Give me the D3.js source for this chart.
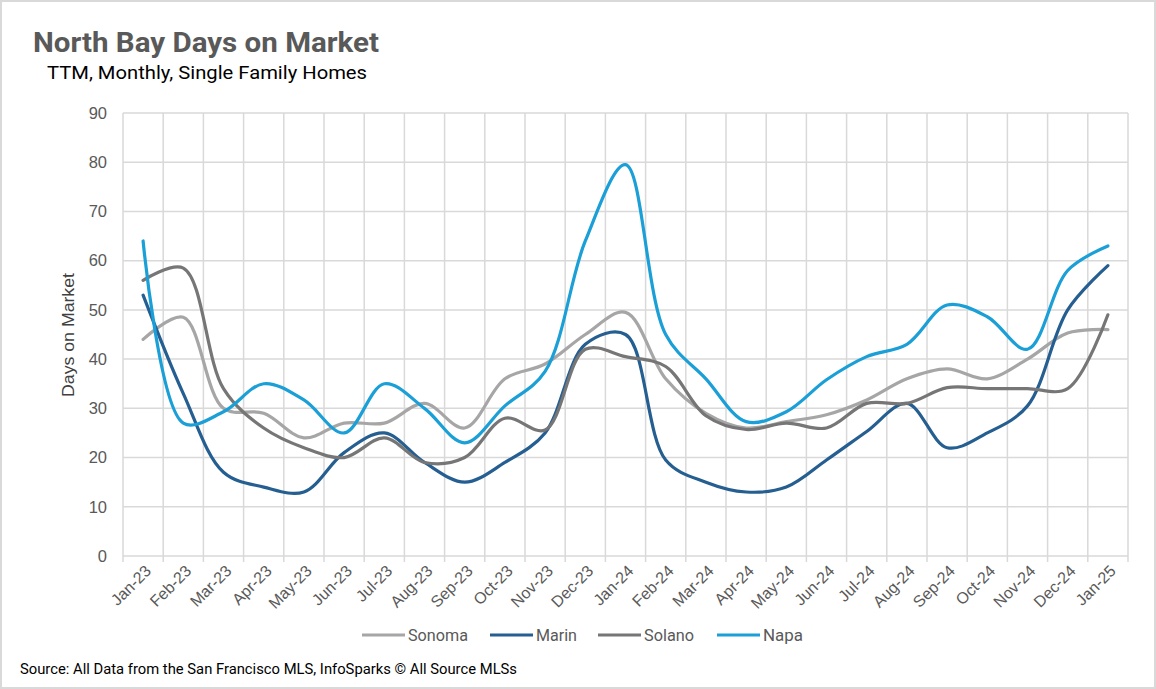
<!DOCTYPE html>
<html><head><meta charset="utf-8">
<script src="https://cdn.jsdelivr.net/npm/d3@7"></script>
<style>
html,body{margin:0;padding:0;background:#fff;}
svg{display:block;}
text{font-family:"Liberation Sans",Arial,sans-serif;}
</style></head>
<body>
<svg id="chart" width="1156" height="689"></svg>
<script>
const months = ["Jan-23","Feb-23","Mar-23","Apr-23","May-23","Jun-23","Jul-23","Aug-23","Sep-23","Oct-23","Nov-23","Dec-23",
  "Jan-24","Feb-24","Mar-24","Apr-24","May-24","Jun-24","Jul-24","Aug-24","Sep-24","Oct-24","Nov-24","Dec-24","Jan-25"];
const sonoma = [44,48.5,30,29,24,27,27,31,26,36,39,45,49.5,36,29,26,27.3,28.7,31.7,36,38,36,40,45.3,46];
const marin  = [53,33,17,14,13,21,25,19,15,19,25,43,45,19.5,15,13,14,19.5,25.3,31,22,25,30.5,50,59];
const solano = [56,58.5,34,26,22,20,24,19,20,28,25.6,42,40.5,38.5,28.5,25.7,27,26,31,31,34.2,34,34,34,49];
const napa   = [64,27,29.3,35,31.7,25,35,30,23,30.5,37.5,64,79.5,45,36,27.3,29.3,35.8,40.5,43,51,48.6,42,58,63];
const yTicks = [0,10,20,30,40,50,60,70,80,90];
const seriesNames = ["Sonoma","Marin","Solano","Napa"];
const seriesColors = ["#a6a6a6","#255e91","#767676","#1b9fd7"];
const seriesData = [sonoma, marin, solano, napa];

const svg = d3.select("#chart");
const W = 1156, H = 689;
const m = {left:123, right:1128, top:113, bottom:556};

// outer border
svg.append("rect").attr("x",1).attr("y",1).attr("width",W-2).attr("height",H-2)
  .attr("fill","#fff").attr("stroke","#d9d9d9").attr("stroke-width",2);

const x = d3.scaleBand().domain(months).range([m.left, m.right]).paddingInner(0).paddingOuter(0);
const y = d3.scaleLinear().domain([0,90]).range([m.bottom, m.top]);

// horizontal gridlines
svg.append("g").selectAll("line").data(yTicks).join("line")
  .attr("x1",m.left).attr("x2",m.right)
  .attr("y1",d=>y(d)).attr("y2",d=>y(d))
  .attr("stroke","#d9d9d9").attr("stroke-width",1.5);

// vertical gridlines at category boundaries
const bounds = months.map(d=>x(d)).concat([m.right]);
svg.append("g").selectAll("line").data(bounds).join("line")
  .attr("x1",d=>d).attr("x2",d=>d)
  .attr("y1",m.top).attr("y2",m.bottom+6)
  .attr("stroke","#d9d9d9").attr("stroke-width",1.5);

// y axis labels
const yAxis = d3.axisLeft(y).tickValues(yTicks).tickSize(0).tickPadding(16);
const yg = svg.append("g").attr("transform",`translate(${m.left},0)`).call(yAxis);
yg.select(".domain").remove();
yg.selectAll("text").attr("fill","#595959").style("font-size","16.5px")
  .style("font-family","'Liberation Sans',Arial,sans-serif");

// x axis
const xAxis = d3.axisBottom(x).tickSize(0).tickPadding(0);
const xg = svg.append("g").attr("transform",`translate(0,${m.bottom})`).call(xAxis);
xg.select(".domain").remove();
xg.selectAll("text")
  .attr("fill","#595959").style("font-size","16px")
  .style("font-family","'Liberation Sans',Arial,sans-serif")
  .attr("text-anchor","end")
  .attr("dy",null).attr("y",null)
  .attr("transform","translate(6,13) rotate(-45)")
  .attr("dominant-baseline","middle");

// y title
svg.append("text").attr("transform",`translate(74,335) rotate(-90)`)
  .attr("text-anchor","middle").attr("fill","#404040").style("font-size","17px")
  .attr("textLength",124).attr("lengthAdjust","spacingAndGlyphs")
  .text("Days on Market");

// lines
const line = d3.line().x((d,i)=>x(months[i])+x.bandwidth()/2).y(d=>y(d))
  .curve(d3.curveCatmullRom.alpha(0.5));
seriesData.forEach((s,k)=>{
  svg.append("path").datum(s).attr("d",line).attr("fill","none")
    .attr("stroke",seriesColors[k]).attr("stroke-width",3.2).attr("stroke-linecap","round");
});

// title
svg.append("text").attr("x",33).attr("y",52).attr("fill","#595959")
  .style("font-family","Roboto,sans-serif").style("font-weight","bold").style("font-size","28px")
  .attr("textLength",346).attr("lengthAdjust","spacingAndGlyphs")
  .text("North Bay Days on Market");
svg.append("text").attr("x",47).attr("y",79).attr("fill","#000")
  .style("font-family","Roboto,sans-serif").style("font-size","19px")
  .attr("textLength",320).attr("lengthAdjust","spacingAndGlyphs")
  .text("TTM, Monthly, Single Family Homes");

// legend
const legX = [362,490,598,717];
const legW = [60,41,50,40];
const lg = svg.append("g");
seriesNames.forEach((n,k)=>{
  lg.append("line").attr("x1",legX[k]).attr("x2",legX[k]+43).attr("y1",635).attr("y2",635)
    .attr("stroke",seriesColors[k]).attr("stroke-width",3.2);
  lg.append("text").attr("x",legX[k]+46).attr("y",641).attr("fill","#595959")
    .style("font-family","Roboto,sans-serif").style("font-size","16.5px")
    .attr("textLength",legW[k]).attr("lengthAdjust","spacingAndGlyphs").text(n);
});

// source
svg.append("text").attr("x",20).attr("y",674).attr("fill","#000")
  .style("font-family","Roboto,sans-serif").style("font-size","15px")
  .attr("textLength",497).attr("lengthAdjust","spacingAndGlyphs")
  .text("Source: All Data from the San Francisco MLS, InfoSparks © All Source MLSs");
</script>
</body></html>
